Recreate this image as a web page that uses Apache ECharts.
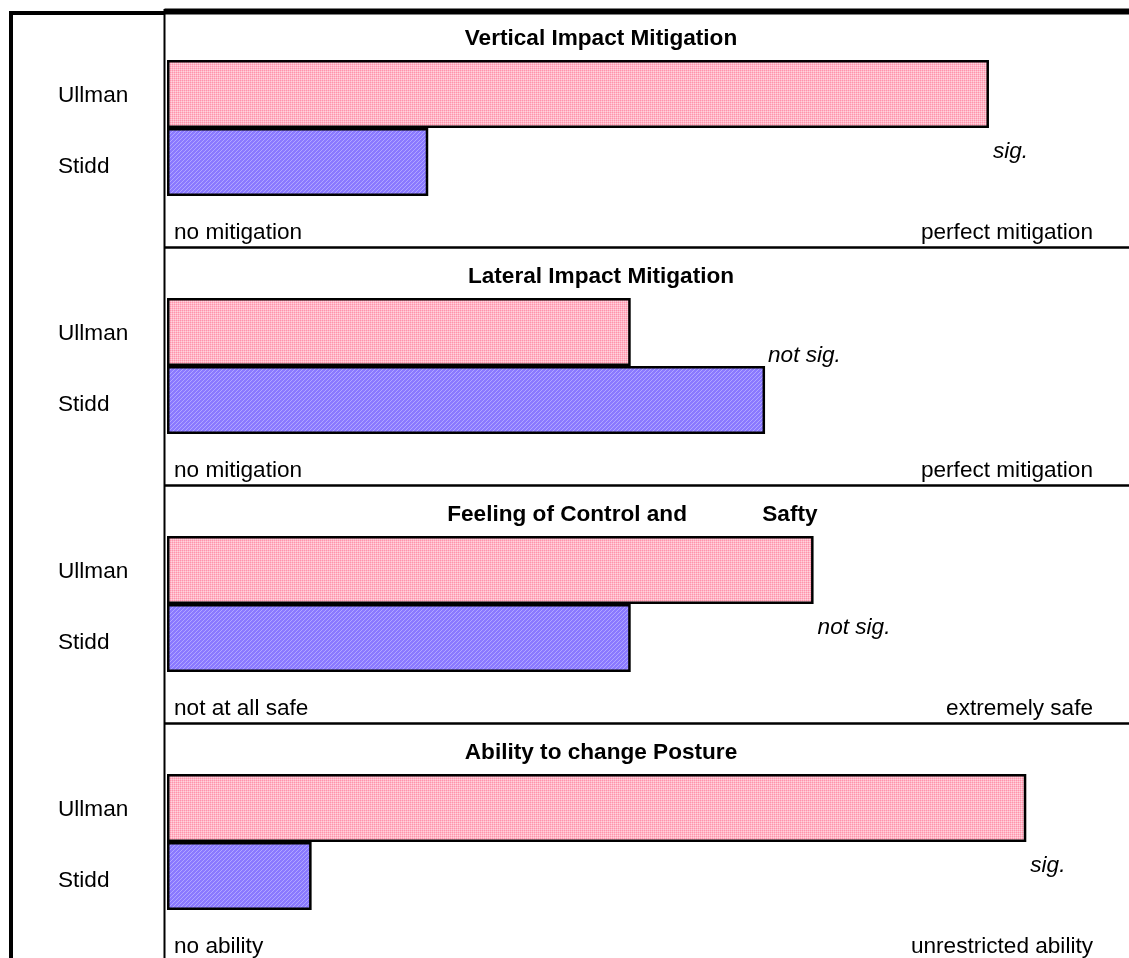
<!DOCTYPE html>
<html>
<head>
<meta charset="utf-8">
<script src="https://cdn.jsdelivr.net/npm/echarts@6/dist/echarts.min.js"></script>
<style>
  html, body { margin: 0; padding: 0; background: #ffffff; }
  #chart { width: 1129px; height: 958px; }
</style>
</head>
<body>
<div id="chart"></div>
<script>
// ---- data ----
const panelTitles = [
  'Vertical Impact Mitigation',
  'Lateral Impact Mitigation',
  '          Feeling of Control and            Safty',
  'Ability to change Posture'
];
const categories = ['Ullman', 'Stidd'];
const ullman = [88.1, 49.7, 69.3, 92.1];
const stidd = [28.0, 64.1, 49.7, 15.5];
const significance = ['sig.', 'not sig.', 'not sig.', 'sig.'];
const lowEnds = ['no mitigation', 'no mitigation', 'not at all safe', 'no ability'];
const highEnds = ['perfect mitigation', 'perfect mitigation', 'extremely safe', 'unrestricted ability'];
const scaleMax = 100;

// ---- layout ----
const W = 1129, H = 958;
const PANEL_TOP = 9, PANEL_H = 238;
const PLOT_LEFT = 167, PLOT_RIGHT = 1100;
const FRAME_X = 164.5;
const FONT = '"Liberation Sans", Arial, Helvetica, sans-serif';
const FS = 22.6;

// hatched fills
function makePattern(size, draw) {
  const c = document.createElement('canvas');
  c.width = c.height = size;
  draw(c.getContext('2d'));
  return { image: c, repeat: 'repeat' };
}
const pinkFill = makePattern(2, g => {
  g.fillStyle = '#ffb5c6'; g.fillRect(0, 0, 2, 2);
  g.fillStyle = '#ff93ab'; g.fillRect(0, 0, 1, 1);
  g.fillStyle = '#ffd3dd'; g.fillRect(1, 1, 1, 1);
});
const purpleFill = makePattern(4, g => {
  g.fillStyle = '#8a79ff'; g.fillRect(0, 0, 4, 4);
  g.fillStyle = '#b0a6ff';
  for (let i = 0; i < 4; i++) g.fillRect(i, 3 - i, 1, 1);
});

const grids = [], xAxes = [], yAxes = [], series = [], graphics = [];

for (let i = 0; i < 4; i++) {
  const T = PANEL_TOP + PANEL_H * i;
  grids.push({
    left: PLOT_LEFT, width: PLOT_RIGHT - PLOT_LEFT, top: T + 51, height: 136,
    containLabel: false, outerBoundsMode: 'none'
  });
  xAxes.push({ gridIndex: i, type: 'value', min: 0, max: scaleMax, show: false });
  yAxes.push({
    gridIndex: i, type: 'category', inverse: true, data: categories,
    axisLine: { show: false }, axisTick: { show: false }, splitLine: { show: false },
    axisLabel: {
      margin: 109, align: 'left', fontSize: FS, color: '#000', fontFamily: FONT,
      formatter: (v, idx) => '{c' + idx + '|' + v + '}',
      rich: {
        c0: { fontSize: FS, fontFamily: FONT, color: '#000', padding: [3, 0, 0, 0] },
        c1: { fontSize: FS, fontFamily: FONT, color: '#000', padding: [10, 0, 0, 0] }
      }
    }
  });

  // the significance note sits at the end of the longer bar, toward the other bar
  const ullmanLonger = ullman[i] >= stidd[i];
  const note = {
    show: true, formatter: significance[i], fontSize: FS, fontStyle: 'italic',
    color: '#000', fontFamily: FONT, align: 'left', verticalAlign: 'middle',
    position: ullmanLonger ? ['100%', '100%'] : ['100%', 0],
    offset: ullmanLonger ? [4, 24] : [3, -10]
  };
  series.push({
    type: 'bar', xAxisIndex: i, yAxisIndex: i,
    barWidth: '100%', silent: true, animation: false,
    itemStyle: { borderColor: '#000', borderWidth: 2.5 },
    data: [
      { value: ullman[i], itemStyle: { color: pinkFill }, label: ullmanLonger ? note : { show: false } },
      { value: stidd[i], itemStyle: { color: purpleFill }, label: ullmanLonger ? { show: false } : note }
    ]
  });

  // panel title
  graphics.push({
    type: 'text', x: 601, y: T + 30, silent: true,
    style: { text: panelTitles[i], font: 'bold ' + FS + 'px ' + FONT, fill: '#000',
             textAlign: 'center', textVerticalAlign: 'middle', align: 'center', verticalAlign: 'middle' }
  });
  // scale end descriptions
  graphics.push({
    type: 'text', x: PLOT_LEFT + 7, y: T + 224, silent: true,
    style: { text: lowEnds[i], font: FS + 'px ' + FONT, fill: '#000',
             textAlign: 'left', textVerticalAlign: 'middle', align: 'left', verticalAlign: 'middle' }
  });
  graphics.push({
    type: 'text', x: PLOT_RIGHT - 7, y: T + 224, silent: true,
    style: { text: highEnds[i], font: FS + 'px ' + FONT, fill: '#000',
             textAlign: 'right', textVerticalAlign: 'middle', align: 'right', verticalAlign: 'middle' }
  });
  // divider under each panel
  if (i < 3) {
    graphics.push({
      type: 'line', silent: true,
      shape: { x1: FRAME_X, y1: T + PANEL_H + 0.5, x2: W, y2: T + PANEL_H + 0.5 },
      style: { stroke: '#000', lineWidth: 2.5 }
    });
  }
}

// frame
graphics.push(
  { type: 'line', silent: true, shape: { x1: 11, y1: 11, x2: 11, y2: H }, style: { stroke: '#000', lineWidth: 4 } },
  { type: 'line', silent: true, shape: { x1: 9, y1: 13, x2: FRAME_X, y2: 13 }, style: { stroke: '#000', lineWidth: 4 } },
  { type: 'line', silent: true, shape: { x1: FRAME_X, y1: 11.5, x2: W, y2: 11.5 }, style: { stroke: '#000', lineWidth: 6 } },
  { type: 'line', silent: true, shape: { x1: FRAME_X, y1: 9, x2: FRAME_X, y2: H }, style: { stroke: '#000', lineWidth: 2 } }
);

const chart = echarts.init(document.getElementById('chart'), null, { renderer: 'canvas' });
chart.setOption({
  backgroundColor: '#ffffff',
  animation: false,
  textStyle: { fontFamily: FONT },
  grid: grids,
  xAxis: xAxes,
  yAxis: yAxes,
  series: series,
  graphic: { elements: graphics }
});
</script>
</body>
</html>
